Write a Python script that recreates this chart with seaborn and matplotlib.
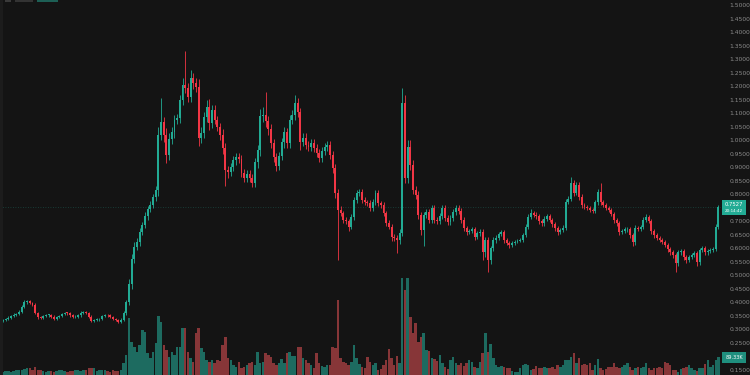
import matplotlib
matplotlib.use("Agg")
import matplotlib.pyplot as plt
from matplotlib.patches import Rectangle
import numpy as np
import pandas as pd
import seaborn as sns

# ---------------- data ----------------
first_open = 0.332

close_a = [0.336, 0.340, 0.344, 0.350, 0.355, 0.357, 0.365, 0.385, 0.400, 0.404,
           0.398, 0.392, 0.360, 0.345, 0.342, 0.350, 0.353, 0.355, 0.348, 0.340,
           0.346, 0.350, 0.356, 0.362, 0.360, 0.352, 0.345, 0.348, 0.352, 0.362,
           0.365, 0.360, 0.348, 0.332, 0.334, 0.337, 0.340, 0.350, 0.355, 0.352,
           0.347, 0.340, 0.335, 0.328, 0.336, 0.362, 0.400, 0.470, 0.560, 0.605,
           0.625, 0.660, 0.685, 0.720, 0.745, 0.760, 0.790, 0.815]
close_b = [1.019, 1.067, 1.019, 0.945, 1.005, 1.030, 1.075, 1.082, 1.149, 1.204,
           1.193, 1.160, 1.230, 1.210, 1.197, 1.008, 1.027, 1.086, 1.123, 1.064,
           1.110, 1.075, 1.049, 1.020, 0.970, 0.890, 0.882, 0.900, 0.925, 0.938,
           0.930, 0.879, 0.860, 0.875, 0.860, 0.842, 0.919, 0.963, 1.089, 1.092,
           1.070, 1.040, 0.990, 0.938, 0.905, 0.940, 0.993, 1.030, 0.990, 1.075,
           1.093, 1.137, 1.104, 0.993, 1.010, 0.982, 0.975, 0.990, 0.970, 0.953,
           0.934, 0.960, 0.975, 0.982, 0.945, 0.897, 0.805, 0.742]
close_c = [0.730, 0.705, 0.700, 0.680, 0.716, 0.779, 0.805, 0.808, 0.779, 0.770,
           0.767, 0.750, 0.772, 0.805, 0.767, 0.760, 0.730, 0.694, 0.680, 0.642,
           0.640, 0.630, 0.656, 1.137, 0.860, 0.975, 0.908, 0.816, 0.797, 0.723,
           0.668, 0.723, 0.735, 0.705, 0.749, 0.705, 0.700, 0.720, 0.749, 0.712,
           0.697, 0.712, 0.735, 0.749, 0.738, 0.705, 0.675, 0.660, 0.665, 0.672,
           0.642, 0.655, 0.662, 0.587, 0.631, 0.557, 0.600, 0.631, 0.640, 0.652,
           0.660, 0.631, 0.620, 0.612, 0.620, 0.625, 0.628, 0.632, 0.650, 0.680,
           0.716, 0.730, 0.725, 0.718, 0.700, 0.692, 0.710, 0.720, 0.705, 0.690,
           0.676, 0.660, 0.668, 0.677, 0.771, 0.782, 0.842, 0.805, 0.834, 0.790,
           0.760, 0.753, 0.749, 0.742, 0.738, 0.770, 0.808, 0.770, 0.760, 0.749,
           0.742, 0.728, 0.705, 0.694, 0.660, 0.665, 0.670, 0.672, 0.650, 0.624,
           0.675, 0.672, 0.680, 0.705, 0.716, 0.700, 0.664, 0.650, 0.638, 0.631,
           0.623, 0.612, 0.598, 0.585, 0.575, 0.545, 0.585, 0.590, 0.568, 0.557,
           0.567, 0.575, 0.583, 0.550, 0.594, 0.600, 0.585, 0.590, 0.594, 0.597,
           0.680, 0.7527]

wick_up_a = [0.004, 0.004, 0.005, 0.004, 0.005, 0.004, 0.006, 0.006, 0.008, 0.006,
             0.005, 0.004, 0.005, 0.004, 0.004, 0.005, 0.004, 0.004, 0.004, 0.005,
             0.004, 0.004, 0.005, 0.004, 0.004, 0.004, 0.005, 0.004, 0.004, 0.005,
             0.004, 0.004, 0.004, 0.004, 0.005, 0.004, 0.004, 0.005, 0.004, 0.004,
             0.004, 0.004, 0.004, 0.004, 0.006, 0.008, 0.010, 0.015, 0.020, 0.020,
             0.015, 0.015, 0.012, 0.015, 0.012, 0.015, 0.012, 0.015]
wick_up_b = [0.030, 0.090, 0.020, 0.025, 0.020, 0.020, 0.020, 0.015, 0.020, 0.025,
             0.126, 0.020, 0.030, 0.020, 0.020, 0.030, 0.020, 0.020, 0.025, 0.030,
             0.020, 0.020, 0.015, 0.015, 0.020, 0.020, 0.015, 0.015, 0.015, 0.015,
             0.015, 0.015, 0.015, 0.015, 0.015, 0.015, 0.015, 0.020, 0.025, 0.030,
             0.086, 0.020, 0.020, 0.015, 0.015, 0.015, 0.015, 0.020, 0.015, 0.020,
             0.020, 0.030, 0.020, 0.015, 0.015, 0.015, 0.015, 0.015, 0.015, 0.015,
             0.015, 0.015, 0.015, 0.015, 0.015, 0.015, 0.015, 0.015]
wick_up_c = [0.015, 0.010, 0.010, 0.010, 0.010, 0.012, 0.012, 0.010, 0.010, 0.010,
             0.010, 0.012, 0.010, 0.012, 0.010, 0.010, 0.010, 0.010, 0.010, 0.010,
             0.010, 0.010, 0.015, 0.056, 0.030, 0.025, 0.025, 0.020, 0.015, 0.015,
             0.012, 0.012, 0.010, 0.010, 0.012, 0.010, 0.010, 0.010, 0.012, 0.010,
             0.010, 0.010, 0.010, 0.010, 0.010, 0.010, 0.010, 0.008, 0.008, 0.008,
             0.008, 0.008, 0.010, 0.010, 0.012, 0.010, 0.010, 0.010, 0.008, 0.008,
             0.008, 0.008, 0.006, 0.006, 0.006, 0.006, 0.006, 0.006, 0.008, 0.010,
             0.010, 0.015, 0.008, 0.008, 0.008, 0.008, 0.008, 0.008, 0.008, 0.008,
             0.008, 0.008, 0.008, 0.008, 0.010, 0.010, 0.022, 0.010, 0.012, 0.010,
             0.010, 0.008, 0.008, 0.008, 0.008, 0.008, 0.010, 0.034, 0.008, 0.008,
             0.008, 0.008, 0.008, 0.008, 0.008, 0.008, 0.008, 0.008, 0.008, 0.008,
             0.010, 0.008, 0.008, 0.010, 0.012, 0.008, 0.008, 0.008, 0.008, 0.008,
             0.008, 0.008, 0.008, 0.008, 0.008, 0.008, 0.008, 0.008, 0.008, 0.008,
             0.008, 0.008, 0.008, 0.008, 0.008, 0.008, 0.008, 0.008, 0.008, 0.008,
             0.010, 0.008]

wick_dn_a = [0.004, 0.005, 0.004, 0.004, 0.004, 0.005, 0.004, 0.004, 0.005, 0.004,
             0.004, 0.005, 0.004, 0.005, 0.004, 0.004, 0.004, 0.005, 0.004, 0.004,
             0.005, 0.004, 0.004, 0.004, 0.005, 0.004, 0.004, 0.004, 0.004, 0.004,
             0.005, 0.004, 0.005, 0.004, 0.004, 0.004, 0.005, 0.004, 0.004, 0.004,
             0.005, 0.004, 0.004, 0.005, 0.004, 0.005, 0.008, 0.010, 0.020, 0.015,
             0.012, 0.015, 0.012, 0.010, 0.015, 0.012, 0.010, 0.015]
wick_dn_b = [0.020, 0.020, 0.025, 0.030, 0.020, 0.020, 0.020, 0.015, 0.020, 0.020,
             0.020, 0.020, 0.020, 0.020, 0.020, 0.030, 0.020, 0.020, 0.020, 0.025,
             0.020, 0.015, 0.015, 0.020, 0.020, 0.060, 0.020, 0.015, 0.015, 0.015,
             0.015, 0.015, 0.015, 0.015, 0.015, 0.015, 0.015, 0.020, 0.020, 0.020,
             0.020, 0.020, 0.020, 0.020, 0.020, 0.015, 0.015, 0.020, 0.020, 0.020,
             0.015, 0.020, 0.020, 0.030, 0.015, 0.015, 0.015, 0.015, 0.015, 0.015,
             0.015, 0.015, 0.015, 0.015, 0.015, 0.020, 0.020, 0.185]
wick_dn_c = [0.012, 0.010, 0.010, 0.015, 0.010, 0.010, 0.010, 0.010, 0.010, 0.010,
             0.010, 0.010, 0.010, 0.010, 0.010, 0.010, 0.010, 0.010, 0.010, 0.015,
             0.012, 0.047, 0.015, 0.010, 0.020, 0.020, 0.020, 0.015, 0.015, 0.015,
             0.020, 0.060, 0.010, 0.010, 0.010, 0.010, 0.010, 0.010, 0.010, 0.010,
             0.010, 0.010, 0.010, 0.010, 0.010, 0.010, 0.010, 0.010, 0.008, 0.008,
             0.010, 0.008, 0.010, 0.030, 0.020, 0.044, 0.015, 0.010, 0.010, 0.008,
             0.008, 0.010, 0.008, 0.010, 0.008, 0.006, 0.006, 0.006, 0.008, 0.008,
             0.008, 0.008, 0.008, 0.008, 0.010, 0.010, 0.008, 0.008, 0.008, 0.010,
             0.010, 0.010, 0.008, 0.008, 0.008, 0.008, 0.008, 0.010, 0.008, 0.010,
             0.010, 0.008, 0.008, 0.008, 0.008, 0.008, 0.008, 0.008, 0.008, 0.008,
             0.008, 0.008, 0.010, 0.010, 0.010, 0.008, 0.008, 0.008, 0.010, 0.015,
             0.010, 0.008, 0.008, 0.008, 0.008, 0.008, 0.010, 0.010, 0.008, 0.008,
             0.008, 0.008, 0.010, 0.010, 0.010, 0.032, 0.010, 0.008, 0.010, 0.010,
             0.008, 0.008, 0.008, 0.015, 0.010, 0.008, 0.008, 0.008, 0.008, 0.008,
             0.008, 0.008]

volume_a = [3, 4, 4, 3, 4, 5, 5, 5, 6, 7,
            7, 5, 8, 5, 5, 4, 3, 4, 4, 3,
            4, 5, 5, 4, 3, 4, 4, 5, 5, 4,
            5, 5, 7, 7, 7, 4, 5, 5, 5, 4,
            3, 5, 4, 4, 5, 12, 20, 57, 33, 28,
            23, 30, 45, 43, 22, 17, 23, 32]
volume_b = [59, 53, 30, 25, 18, 23, 20, 28, 28, 47,
            47, 23, 17, 13, 42, 47, 27, 23, 15, 13,
            15, 12, 15, 14, 30, 38, 17, 15, 10, 8,
            13, 7, 8, 10, 12, 13, 10, 23, 12, 13,
            22, 20, 18, 12, 10, 12, 16, 12, 22, 23,
            19, 19, 28, 28, 17, 15, 12, 10, 7, 22,
            12, 9, 8, 10, 10, 28, 27, 75]
volume_c = [17, 13, 12, 10, 13, 30, 17, 11, 8, 7,
            18, 13, 10, 12, 5, 6, 10, 15, 26, 17,
            10, 19, 12, 97, 85, 97, 58, 42, 52, 33,
            38, 42, 25, 24, 17, 16, 14, 20, 12, 8,
            6, 15, 18, 12, 10, 12, 9, 12, 15, 13,
            8, 7, 13, 22, 42, 23, 31, 17, 10, 8,
            9, 8, 7, 7, 4, 3, 3, 7, 10, 11,
            10, 5, 6, 9, 7, 7, 8, 7, 7, 8,
            6, 10, 8, 10, 15, 15, 18, 22, 12, 17,
            10, 11, 10, 12, 5, 10, 16, 7, 5, 6,
            8, 8, 12, 8, 7, 8, 10, 12, 8, 5,
            7, 8, 7, 8, 12, 7, 5, 7, 7, 8,
            7, 13, 12, 10, 5, 5, 3, 6, 7, 8,
            10, 7, 5, 4, 7, 7, 11, 15, 8, 10,
            15, 18]

# price-scale labels (0.2000 and 0.7500 sit under the tags and are not visible)
price_ticks = [0.15, 0.20, 0.25, 0.30, 0.35, 0.40, 0.45, 0.50, 0.55, 0.60,
               0.65, 0.70, 0.75, 0.80, 0.85, 0.90, 0.95, 1.00, 1.05, 1.10,
               1.15, 1.20, 1.25, 1.30, 1.35, 1.40, 1.45, 1.50]
price_labels = ["0.1500", "", "0.2500", "0.3000", "0.3500", "0.4000", "0.4500",
                "0.5000", "0.5500", "0.6000", "0.6500", "0.7000", "", "0.8000",
                "0.8500", "0.9000", "0.9500", "1.0000", "1.0500", "1.1000",
                "1.1500", "1.2000", "1.2500", "1.3000", "1.3500", "1.4000",
                "1.4500", "1.5000"]
last_price_text = "0.7527"
countdown_text = "20:14:42"
volume_text = "89.33K"

# ---------------- build table ----------------
close = close_a + close_b + close_c
wick_up = wick_up_a + wick_up_b + wick_up_c
wick_dn = wick_dn_a + wick_dn_b + wick_dn_c
volume = volume_a + volume_b + volume_c
opens = [first_open] + close[:-1]

df = pd.DataFrame({"idx": np.arange(len(close)), "open": opens, "close": close,
                   "wu": wick_up, "wd": wick_dn, "volume": volume})
df["top"] = df[["open", "close"]].max(axis=1)
df["bot"] = df[["open", "close"]].min(axis=1)
df["high"] = df["top"] + df["wu"]
df["low"] = df["bot"] - df["wd"]
df["dir"] = np.where(df["close"] >= df["open"], "up", "down")

# ---------------- style ----------------
BG = "#141414"
GREEN = "#22ab94"
RED = "#f23645"
VGREEN = "#1d6b60"
VRED = "#873638"
LABEL = "#8c8c8c"

sns.set_theme(style="dark", rc={"axes.facecolor": BG, "figure.facecolor": BG})
plt.rcParams["font.family"] = ["DejaVu Sans"]

W, H = 750, 375
fig = plt.figure(figsize=(7.5, 3.75), dpi=100)
fig.patch.set_facecolor(BG)
rect = [0, 0, 721 / W, 1]

# volume panel (behind)
axv = fig.add_axes(rect)
axv.set_facecolor(BG)
sns.barplot(data=df, x="idx", y="volume", hue="dir", native_scale=True,
            palette={"up": VGREEN, "down": VRED}, dodge=False, width=0.92,
            linewidth=0, saturation=1, legend=False, ax=axv)
axv.set_ylim(0, 375)
axv.set_axis_off()

# price panel (front)
ax = fig.add_axes(rect, sharex=axv)
ax.patch.set_visible(False)
colors = np.where(df["dir"] == "up", GREEN, RED)
ax.vlines(df["idx"], df["low"], df["high"], colors=colors, linewidth=0.6, zorder=2)
body = np.maximum(df["top"] - df["bot"], 0.003)
ax.bar(df["idx"], body, bottom=df["bot"], width=0.72, color=colors,
       linewidth=0, zorder=3)
ax.axhline(close[-1], color=GREEN, lw=0.6, alpha=0.35, ls=(0, (1, 2)), zorder=1)

n = len(df)
ax.set_xlim(-1.12, n - 1 + 0.95)
ax.set_ylim(0.1317, 1.5185)
for s in ax.spines.values():
    s.set_visible(False)
ax.yaxis.tick_right()
ax.set_yticks(price_ticks)
ax.set_yticklabels(price_labels)
ax.tick_params(axis="y", length=0, pad=6, labelsize=4.3, labelcolor=LABEL)
ax.tick_params(axis="x", length=0, labelbottom=False)
ax.set_xlabel("")
ax.set_ylabel("")
ax.grid(False)
axv.grid(False)


def px_rect(x0, y0, x1, y1, color, z=5):
    fig.patches.append(Rectangle((x0 / W, 1 - y1 / H), (x1 - x0) / W, (y1 - y0) / H,
                                 transform=fig.transFigure, facecolor=color,
                                 edgecolor="none", zorder=z))


# last-price tag
px_rect(722, 200, 746, 215, GREEN)
fig.text(734 / W, 1 - 204.3 / H, last_price_text, fontsize=3.8, color="white",
         va="center", ha="center", zorder=6)
fig.text(734 / W, 1 - 211.0 / H, countdown_text, fontsize=3.0, color="white",
         va="center", ha="center", zorder=6)

# volume tag
px_rect(722, 352, 746, 363, "#1f8f7e")
fig.text(734 / W, 1 - 357.5 / H, volume_text, fontsize=3.6, color="white",
         va="center", ha="center", zorder=6)

# left edge strip and the cut-off legend chips at the top
px_rect(0, 0, 3, 375, "#1c1c1c", z=1)
px_rect(5, 0, 11, 2, "#3a3a3a")
px_rect(15, 0, 33, 2, "#333333")
px_rect(37, 0, 58, 2, "#1d5f55")

fig.savefig("out.png", dpi=100, facecolor=BG)
